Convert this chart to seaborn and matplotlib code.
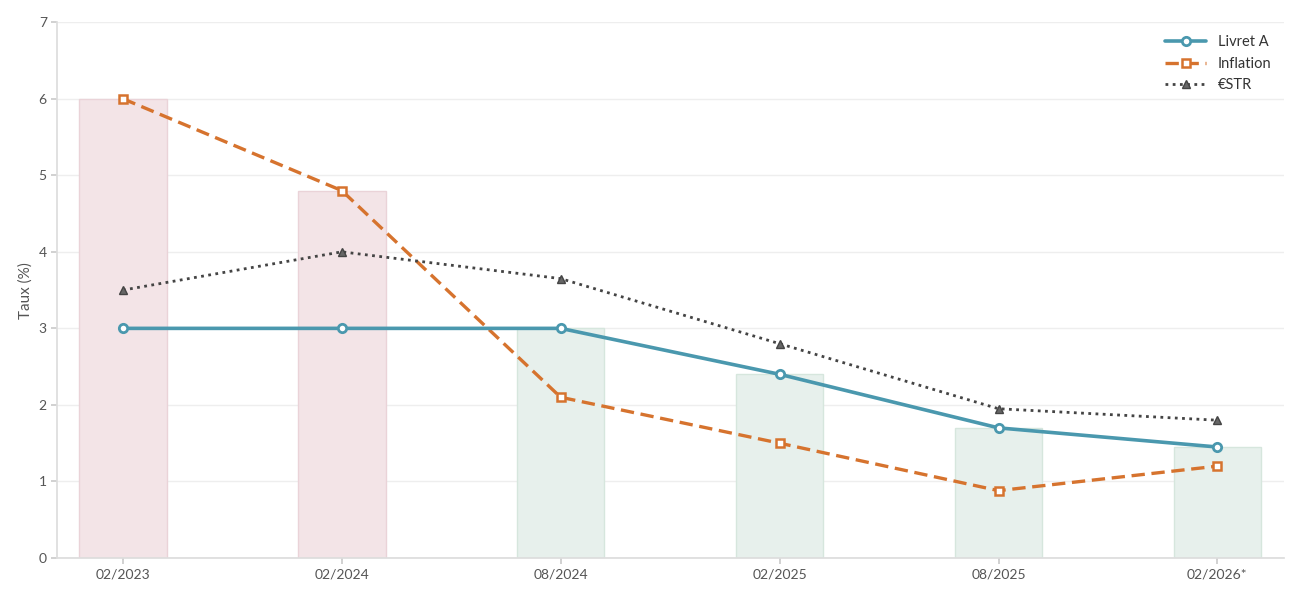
import matplotlib
matplotlib.use("Agg")
import matplotlib.pyplot as plt
import seaborn as sns
import pandas as pd
import numpy as np

dates = ["02/2023", "02/2024", "08/2024", "02/2025", "08/2025", "02/2026*"]
livret_a = [3.0, 3.0, 3.0, 2.4, 1.7, 1.45]
inflation = [6.0, 4.8, 2.1, 1.5, 0.88, 1.2]
estr = [3.5, 4.0, 3.65, 2.8, 1.95, 1.8]

sns.set_theme(style="white")
plt.rcParams['font.family'] = ['Lato', 'DejaVu Sans']

fig, ax = plt.subplots(figsize=(13, 6), dpi=100)
fig.subplots_adjust(left=0.044, right=0.988, top=0.963, bottom=0.07)

x = np.arange(len(dates))
bar_h = [max(a, b) for a, b in zip(livret_a, inflation)]
bar_c = ["#f3e4e7" if i > a else "#e7f0ec" for a, i in zip(livret_a, inflation)]
edge_c = ["#ead3d8" if i > a else "#d6e6dd" for a, i in zip(livret_a, inflation)]
ax.bar(x, bar_h, width=0.4, color=bar_c, edgecolor=edge_c, linewidth=1, zorder=1)

df = pd.DataFrame({"x": x, "Livret A": livret_a, "Inflation": inflation, "€STR": estr})
sns.lineplot(data=df, x="x", y="Livret A", ax=ax, color="#4a98ae", lw=2.6,
             marker="o", ms=6, mfc="white", mec="#4a98ae", mew=2, label="Livret A", zorder=4)
sns.lineplot(data=df, x="x", y="Inflation", ax=ax, color="#d6732e", lw=2.4, ls=(0, (4, 2)),
             marker="s", ms=5.5, mfc="white", mec="#d6732e", mew=1.8, label="Inflation", zorder=3)
sns.lineplot(data=df, x="x", y="€STR", ax=ax, color="#444444", lw=2, ls=(0, (1, 1.6)),
             marker="^", ms=5.5, mfc="#666666", mec="#444444", mew=1, label="€STR", zorder=3)

ax.set_xlim(-0.3, len(dates) - 1 + 0.306)
ax.set_ylim(0, 7)
ax.set_xticks(x)
ax.set_xticklabels(dates)
ax.set_yticks(range(8))
ax.set_xlabel("")
ax.set_ylabel("Taux (%)", fontsize=11, color="#555555")
ax.tick_params(axis="both", labelsize=10, colors="#555555", length=4, color="#cccccc")
ax.tick_params(axis="x", bottom=True)
ax.tick_params(axis="y", left=True)
ax.grid(axis="y", color="#eeeeee", lw=1)
ax.set_axisbelow(True)
for s in ["top", "right"]:
    ax.spines[s].set_visible(False)
for s in ["left", "bottom"]:
    ax.spines[s].set_color("#dddddd")
leg = ax.legend(loc="upper right", frameon=False, fontsize=10.5, handlelength=2.8)
for t in leg.get_texts():
    t.set_color("#333333")
fig.savefig("out.png")
